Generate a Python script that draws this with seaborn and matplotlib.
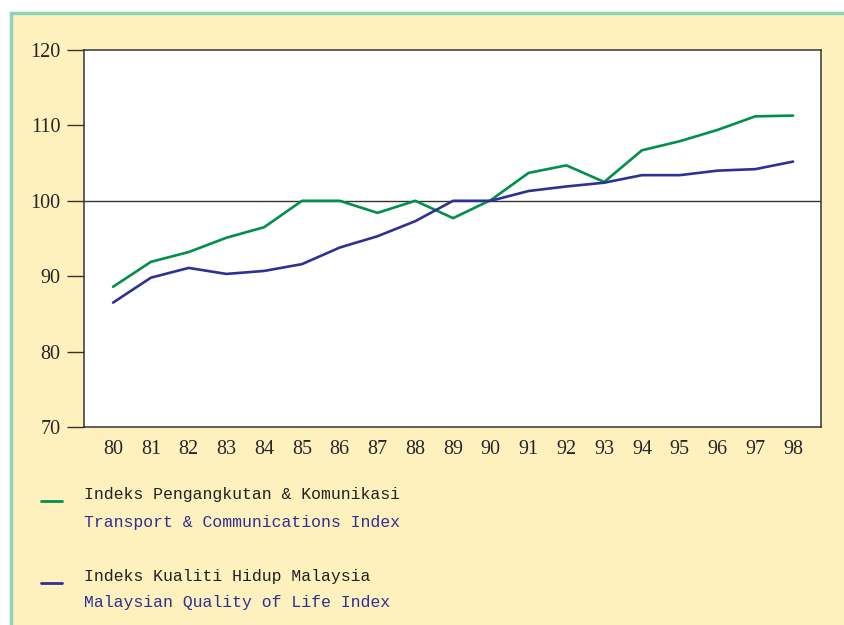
import numpy as np
import pandas as pd
import seaborn as sns
import matplotlib.pyplot as plt
from matplotlib.patches import Rectangle
from matplotlib.lines import Line2D

# %% data
years = [80, 81, 82, 83, 84, 85, 86, 87, 88, 89, 90, 91, 92, 93, 94, 95, 96, 97, 98]
transport = [88.6, 91.9, 93.2, 95.1, 96.5, 100.0, 100.0, 98.4, 100.0, 97.7,
             100.1, 103.7, 104.7, 102.5, 106.7, 107.9, 109.4, 111.2, 111.3]
quality = [86.5, 89.8, 91.1, 90.3, 90.7, 91.6, 93.8, 95.3, 97.3, 100.0,
           100.0, 101.3, 101.9, 102.4, 103.4, 103.4, 104.0, 104.2, 105.2]
series_names = ["Transport & Communications Index", "Malaysian Quality of Life Index"]
legend_ms = ["Indeks Pengangkutan & Komunikasi", "Indeks Kualiti Hidup Malaysia"]
colors = ["#00904A", "#2E3192"]

df = pd.DataFrame({
    "year": years * 2,
    "index": transport + quality,
    "series": [series_names[0]] * len(years) + [series_names[1]] * len(years),
})

# %% figure
sns.set_style("white")
plt.rcParams["font.family"] = ["Liberation Serif", "DejaVu Serif"]

fig = plt.figure(figsize=(8.45, 6.25), dpi=100, facecolor="white")
# yellow panel with green frame
fig.add_artist(Rectangle((11 / 845, -0.2), 1.2, (625 - 13) / 625 + 0.2,
                         transform=fig.transFigure, facecolor="#FFF1BE",
                         edgecolor="#8DD5B7", linewidth=2.5, zorder=0))

ax = fig.add_axes([84 / 845, 1 - 427 / 625, (821 - 84) / 845, (427 - 50) / 625])
ax.set_facecolor("white")

sns.lineplot(data=df, x="year", y="index", hue="series", palette=colors,
             linewidth=1.9, ax=ax, legend=False)
ax.axhline(100, color="#333333", linewidth=1, zorder=1)

ax.set_xlim(79.23, 98.74)
ax.set_ylim(70, 120)
ax.set_xticks(years)
ax.set_yticks([70, 80, 90, 100, 110, 120])
ax.tick_params(axis="y", length=12, width=1, color="#333333", pad=5, labelsize=14.5, direction="out", left=True)
ax.tick_params(axis="x", length=0, pad=9, labelsize=14.5)
ax.set_xlabel("")
ax.set_ylabel("")
for s in ax.spines.values():
    s.set_color("#333333")
    s.set_linewidth(1.1)

# %% legend drawn by hand
mono = ["Liberation Mono", "DejaVu Sans Mono"]
rows = [(495, 522, 501), (576, 602, 583)]
for (y1, y2, yl), c, ms, en in zip(rows, colors, legend_ms, series_names):
    fig.add_artist(Line2D([41 / 845, 62 / 845], [1 - yl / 625] * 2, color=c, linewidth=2))
    fig.text(84 / 845, 1 - y1 / 625, ms, family=mono, fontsize=11.9, color="#222222", va="center")
    fig.text(84 / 845, 1 - y2 / 625, en, family=mono, fontsize=11.9, color="#2E3192", va="center")

fig.savefig("out.png", dpi=100, facecolor=fig.get_facecolor())
